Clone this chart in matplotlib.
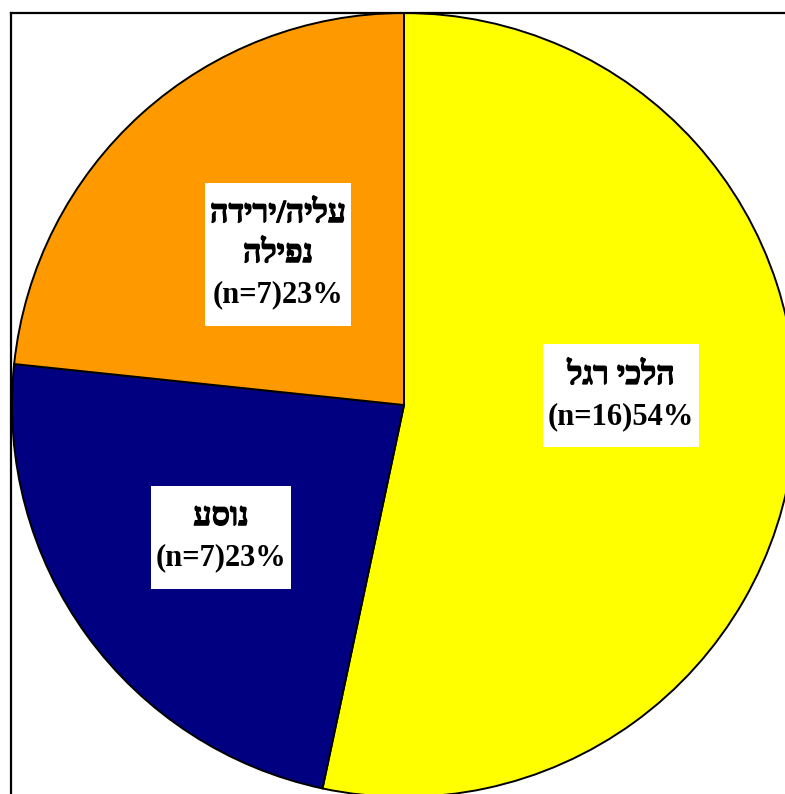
import matplotlib
matplotlib.use("Agg")
import matplotlib.pyplot as plt
import matplotlib.patheffects as pe
from matplotlib.patches import Rectangle

# Data: accident type breakdown
categories = ["הלכי רגל", "נוסע", "עליה/ירידה\nנפילה"]
counts = [16, 7, 7]
percent_labels = ["54%", "23%", "23%"]
colors = ["#FFFF00", "#000080", "#FF9900"]

# Label box centres (in pie radius units)
label_pos = [(0.554, 0.023), (-0.467, -0.337), (-0.321, 0.385)]


def visual_rtl(line):
    # matplotlib lays out glyphs left-to-right, so Hebrew lines are reversed
    return line[::-1]


W, H = 785, 794
DPI = 100
PT = 72 / DPI  # points per pixel
fig = plt.figure(figsize=(W / DPI, H / DPI), dpi=DPI)
fig.patch.set_facecolor("white")

# Plot-area frame: left/top edges visible, right/bottom run past the canvas
left_px, top_px, right_px, bottom_px = 11, 12.5, 800, 810
ax = fig.add_axes([left_px / W, 1 - bottom_px / H,
                   (right_px - left_px) / W, (bottom_px - top_px) / H])

cx, cy, R = 404, 405, 392  # pie centre and radius in pixels

wedges, _ = ax.pie(counts, colors=colors, startangle=90, counterclock=False,
                   radius=1.0, frame=True,
                   wedgeprops=dict(edgecolor="black", linewidth=1.4))

ax.set_aspect("auto")
ax.set_xlim((left_px - cx) / R, (right_px - cx) / R)
ax.set_ylim((cy - bottom_px) / R, (cy - top_px) / R)
ax.set_xticks([])
ax.set_yticks([])
for s in ax.spines.values():
    s.set_linewidth(1.6)
    s.set_color("black")

latin_font = ["Liberation Serif", "DejaVu Serif"]
hebrew_font = ["Liberation Serif", "DejaVu Sans"]
line_step = 40      # px between baselines
base_shift = 8      # px, baseline shift below the nominal line centre
hpad, vextra = 5, 23

groups = []
for cat, n, pct, (x, y) in zip(categories, counts, percent_labels, label_pos):
    lines = [(visual_rtl(l), True) for l in cat.split("\n")]
    lines.append((f"(n={n}){pct}", False))
    k = len(lines)
    texts = []
    for i, (s, is_heb) in enumerate(lines):
        dy_px = (i - (k - 1) / 2) * line_step + base_shift
        kw = dict(fontsize=23.2, family=hebrew_font, fontweight="bold",
                  path_effects=[pe.withStroke(linewidth=0.9, foreground="black")]) \
            if is_heb else dict(fontsize=22, family=latin_font, fontweight="bold")
        t = ax.annotate(s, xy=(x, y), xytext=(0, -dy_px * PT),
                        textcoords="offset points", ha="center", va="baseline",
                        zorder=5, **kw)
        texts.append(t)
    groups.append((x, y, k, texts))

# White label boxes sized to the rendered text
fig.canvas.draw()
renderer = fig.canvas.get_renderer()
for x, y, k, texts in groups:
    width = max(t.get_window_extent(renderer).width for t in texts) + 2 * hpad
    height = k * line_step + vextra
    px, py = ax.transData.transform((x, y))
    inv = ax.transData.inverted()
    (x0, y0) = inv.transform((px - width / 2, py - height / 2))
    (x1, y1) = inv.transform((px + width / 2, py + height / 2))
    ax.add_patch(Rectangle((x0, y0), x1 - x0, y1 - y0, facecolor="white",
                           edgecolor="none", zorder=4))

fig.savefig("out.png", dpi=DPI, facecolor="white")
